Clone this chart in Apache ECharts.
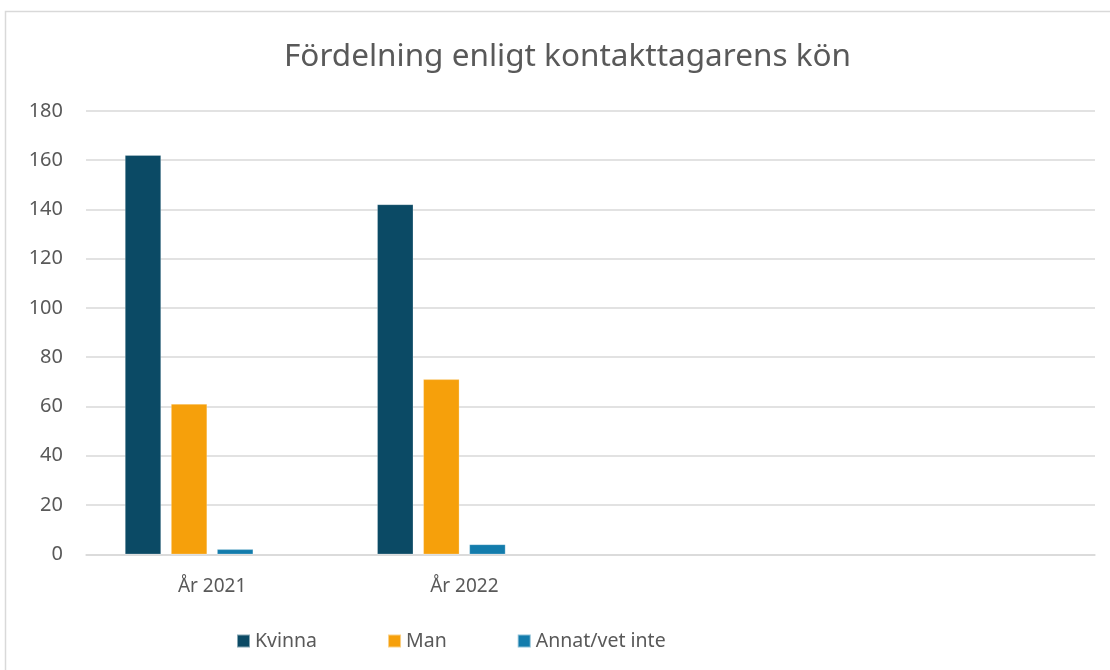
<!DOCTYPE html>
<html><head><meta charset="utf-8">
<script src="https://cdn.jsdelivr.net/npm/echarts@6/dist/echarts.min.js"></script>
<style>html,body{margin:0;padding:0;background:#fff}#c{width:1110px;height:670px}</style>
</head><body><div id="c"></div>
<script>
const titleText = 'Fördelning enligt kontakttagarens kön';
const categories = ['År 2021', 'År 2022', '', ''];
const kvinna = [162, 142, null, null];
const man = [61, 71, null, null];
const annat = [2, 4, null, null];
const blank = [null, null, null, null];
const seriesNames = ['Kvinna', 'Man', 'Annat/vet inte'];
const colors = ['#0b4a65', '#f6a00b', '#137cac'];

const font = 'Noto Sans';
const chart = echarts.init(document.getElementById('c'));
const mk = (name, data, color) => ({
  name, type: 'bar', data, barWidth: 36, barGap: '28%', barCategoryGap: '31%',
  itemStyle: { color, borderColor: 'rgba(255,255,255,0.5)', borderWidth: 0.5 }
});
chart.setOption({
  animation: false,
  textStyle: { fontFamily: font },
  title: { text: titleText, left: 279, top: 36,
    textStyle: { fontFamily: font, fontSize: 31.5, fontWeight: 'normal', color: '#595959' } },
  graphic: [{ type: 'rect', shape: { x: 5.5, y: 11.5, width: 1120, height: 700 },
    style: { fill: 'none', stroke: '#d9d9d9', lineWidth: 1.5 }, silent: true }],
  legend: { data: seriesNames, bottom: 14, left: 231, itemWidth: 13, itemHeight: 13, itemGap: 70,
    icon: 'rect', textStyle: { fontFamily: font, fontSize: 19.5, color: '#595959' } },
  grid: { left: 86, right: 15, top: 110.8, bottom: 115.7, containLabel: false },
  xAxis: { type: 'category', data: categories,
    axisLine: { lineStyle: { color: '#d9d9d9', width: 1.5 } }, axisTick: { show: false },
    axisLabel: { fontSize: 19, color: '#595959', margin: 23, fontFamily: font } },
  yAxis: { type: 'value', min: 0, max: 180, interval: 20,
    axisLine: { show: false }, axisTick: { show: false },
    splitLine: { lineStyle: { color: '#d9d9d9', width: 1.5 } },
    axisLabel: { fontSize: 20, color: '#595959', margin: 23, fontFamily: font } },
  series: [mk(seriesNames[0], kvinna, colors[0]), mk(seriesNames[1], man, colors[1]),
           mk(seriesNames[2], annat, colors[2]), mk('Serie 4', blank, '#999')]
});
</script></body></html>
